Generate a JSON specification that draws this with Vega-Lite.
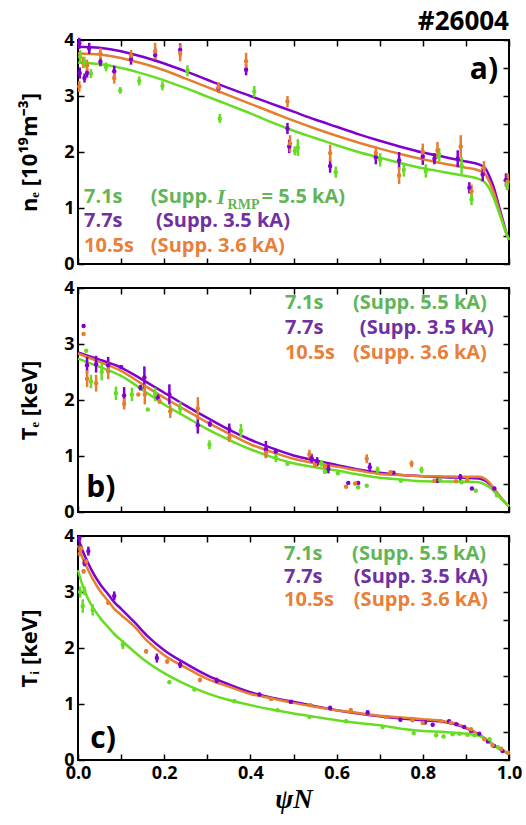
{
  "$schema": "https://vega.github.io/schema/vega-lite/v6.json",
  "padding": {"left": 17, "top": 8, "right": 2, "bottom": 4},
  "spacing": 4,
  "config": {
    "view": {"stroke": "black", "strokeWidth": 2},
    "font": "Open Sans",
    "axis": {"domain": false, "grid": false, "tickColor": "black", "tickWidth": 1.5, "tickSize": -6, "labelFont": "Open Sans", "labelFontSize": 18, "labelFontWeight": "bold", "labelColor": "black", "labelOverlap": false, "labelFlush": false, "labelPadding": 0, "titleColor": "black"}
  },
  "datasets": {
    "fitA": [
      {"t":"7.7s","psi":0,"v":3.88},{"t":"7.7s","psi":0.05,"v":3.86},{"t":"7.7s","psi":0.1,"v":3.80},{"t":"7.7s","psi":0.15,"v":3.70},{"t":"7.7s","psi":0.2,"v":3.58},{"t":"7.7s","psi":0.25,"v":3.44},{"t":"7.7s","psi":0.3,"v":3.29},{"t":"7.7s","psi":0.35,"v":3.14},{"t":"7.7s","psi":0.4,"v":3.00},{"t":"7.7s","psi":0.45,"v":2.86},{"t":"7.7s","psi":0.5,"v":2.72},{"t":"7.7s","psi":0.55,"v":2.58},{"t":"7.7s","psi":0.6,"v":2.45},{"t":"7.7s","psi":0.65,"v":2.32},{"t":"7.7s","psi":0.7,"v":2.20},{"t":"7.7s","psi":0.75,"v":2.09},{"t":"7.7s","psi":0.8,"v":1.99},{"t":"7.7s","psi":0.85,"v":1.91},{"t":"7.7s","psi":0.9,"v":1.83},{"t":"7.7s","psi":0.93,"v":1.78},{"t":"7.7s","psi":0.945,"v":1.71},{"t":"7.7s","psi":0.955,"v":1.56},{"t":"7.7s","psi":0.965,"v":1.36},{"t":"7.7s","psi":0.975,"v":1.08},{"t":"7.7s","psi":0.985,"v":0.80},{"t":"7.7s","psi":0.993,"v":0.58},{"t":"7.7s","psi":1.0,"v":0.43},
      {"t":"10.5s","psi":0,"v":3.76},{"t":"10.5s","psi":0.05,"v":3.74},{"t":"10.5s","psi":0.1,"v":3.68},{"t":"10.5s","psi":0.15,"v":3.58},{"t":"10.5s","psi":0.2,"v":3.46},{"t":"10.5s","psi":0.25,"v":3.31},{"t":"10.5s","psi":0.3,"v":3.16},{"t":"10.5s","psi":0.35,"v":3.01},{"t":"10.5s","psi":0.4,"v":2.86},{"t":"10.5s","psi":0.45,"v":2.71},{"t":"10.5s","psi":0.5,"v":2.56},{"t":"10.5s","psi":0.55,"v":2.42},{"t":"10.5s","psi":0.6,"v":2.29},{"t":"10.5s","psi":0.65,"v":2.17},{"t":"10.5s","psi":0.7,"v":2.06},{"t":"10.5s","psi":0.75,"v":1.96},{"t":"10.5s","psi":0.8,"v":1.87},{"t":"10.5s","psi":0.85,"v":1.79},{"t":"10.5s","psi":0.9,"v":1.72},{"t":"10.5s","psi":0.93,"v":1.67},{"t":"10.5s","psi":0.945,"v":1.60},{"t":"10.5s","psi":0.955,"v":1.46},{"t":"10.5s","psi":0.965,"v":1.27},{"t":"10.5s","psi":0.975,"v":1.01},{"t":"10.5s","psi":0.985,"v":0.76},{"t":"10.5s","psi":0.993,"v":0.56},{"t":"10.5s","psi":1.0,"v":0.43},
      {"t":"7.1s","psi":0,"v":3.60},{"t":"7.1s","psi":0.05,"v":3.57},{"t":"7.1s","psi":0.1,"v":3.50},{"t":"7.1s","psi":0.15,"v":3.40},{"t":"7.1s","psi":0.2,"v":3.28},{"t":"7.1s","psi":0.25,"v":3.14},{"t":"7.1s","psi":0.3,"v":2.99},{"t":"7.1s","psi":0.35,"v":2.84},{"t":"7.1s","psi":0.4,"v":2.69},{"t":"7.1s","psi":0.45,"v":2.53},{"t":"7.1s","psi":0.5,"v":2.38},{"t":"7.1s","psi":0.55,"v":2.25},{"t":"7.1s","psi":0.6,"v":2.12},{"t":"7.1s","psi":0.65,"v":2.00},{"t":"7.1s","psi":0.7,"v":1.90},{"t":"7.1s","psi":0.75,"v":1.80},{"t":"7.1s","psi":0.8,"v":1.71},{"t":"7.1s","psi":0.85,"v":1.64},{"t":"7.1s","psi":0.9,"v":1.57},{"t":"7.1s","psi":0.93,"v":1.52},{"t":"7.1s","psi":0.945,"v":1.45},{"t":"7.1s","psi":0.955,"v":1.34},{"t":"7.1s","psi":0.965,"v":1.17},{"t":"7.1s","psi":0.975,"v":0.96},{"t":"7.1s","psi":0.985,"v":0.74},{"t":"7.1s","psi":0.993,"v":0.56},{"t":"7.1s","psi":1.0,"v":0.43}
    ],
    "ptsA": [
      {"t":"7.7s","psi":0.003,"v":3.94,"err":0.1},{"t":"7.7s","psi":0.004,"v":3.41,"err":0.1},{"t":"7.7s","psi":0.015,"v":3.32,"err":0.08},{"t":"7.7s","psi":0.021,"v":3.41,"err":0.08},{"t":"7.7s","psi":0.026,"v":3.85,"err":0.1},{"t":"7.7s","psi":0.052,"v":3.61,"err":0.08},{"t":"7.7s","psi":0.084,"v":3.44,"err":0.1},{"t":"7.7s","psi":0.123,"v":3.66,"err":0.1},{"t":"7.7s","psi":0.179,"v":3.73,"err":0.12},{"t":"7.7s","psi":0.237,"v":3.82,"err":0.12},{"t":"7.7s","psi":0.326,"v":3.14,"err":0.08},{"t":"7.7s","psi":0.39,"v":3.47,"err":0.1},{"t":"7.7s","psi":0.486,"v":2.42,"err":0.1},{"t":"7.7s","psi":0.49,"v":2.1,"err":0.12},{"t":"7.7s","psi":0.585,"v":1.75,"err":0.12},{"t":"7.7s","psi":0.691,"v":1.9,"err":0.12},{"t":"7.7s","psi":0.745,"v":1.85,"err":0.15},{"t":"7.7s","psi":0.8,"v":1.92,"err":0.15},{"t":"7.7s","psi":0.827,"v":1.88,"err":0.1},{"t":"7.7s","psi":0.881,"v":1.88,"err":0.15},{"t":"7.7s","psi":0.908,"v":1.36,"err":0.1},{"t":"7.7s","psi":0.939,"v":1.6,"err":0.12},{"t":"7.7s","psi":0.993,"v":1.5,"err":0.12},
      {"t":"10.5s","psi":0.003,"v":3.17,"err":0.1},{"t":"10.5s","psi":0.012,"v":3.6,"err":0.1},{"t":"10.5s","psi":0.021,"v":3.55,"err":0.1},{"t":"10.5s","psi":0.052,"v":3.76,"err":0.1},{"t":"10.5s","psi":0.084,"v":3.32,"err":0.1},{"t":"10.5s","psi":0.123,"v":3.72,"err":0.1},{"t":"10.5s","psi":0.179,"v":3.8,"err":0.15},{"t":"10.5s","psi":0.237,"v":3.77,"err":0.15},{"t":"10.5s","psi":0.326,"v":3.15,"err":0.1},{"t":"10.5s","psi":0.39,"v":3.62,"err":0.15},{"t":"10.5s","psi":0.486,"v":2.9,"err":0.1},{"t":"10.5s","psi":0.492,"v":2.15,"err":0.15},{"t":"10.5s","psi":0.585,"v":1.98,"err":0.15},{"t":"10.5s","psi":0.691,"v":1.98,"err":0.12},{"t":"10.5s","psi":0.745,"v":1.58,"err":0.15},{"t":"10.5s","psi":0.8,"v":2.0,"err":0.15},{"t":"10.5s","psi":0.834,"v":2.03,"err":0.15},{"t":"10.5s","psi":0.888,"v":2.1,"err":0.2},{"t":"10.5s","psi":0.913,"v":1.3,"err":0.12},{"t":"10.5s","psi":0.942,"v":1.72,"err":0.12},{"t":"10.5s","psi":0.997,"v":1.47,"err":0.15},
      {"t":"7.1s","psi":0.005,"v":3.7,"err":0.12},{"t":"7.1s","psi":0.015,"v":3.6,"err":0.1},{"t":"7.1s","psi":0.03,"v":3.4,"err":0.08},{"t":"7.1s","psi":0.065,"v":3.52,"err":0.08},{"t":"7.1s","psi":0.098,"v":3.1,"err":0.06},{"t":"7.1s","psi":0.142,"v":3.27,"err":0.08},{"t":"7.1s","psi":0.196,"v":3.18,"err":0.08},{"t":"7.1s","psi":0.254,"v":3.45,"err":0.1},{"t":"7.1s","psi":0.329,"v":2.6,"err":0.08},{"t":"7.1s","psi":0.409,"v":3.08,"err":0.1},{"t":"7.1s","psi":0.503,"v":2.02,"err":0.08},{"t":"7.1s","psi":0.51,"v":2.08,"err":0.15},{"t":"7.1s","psi":0.598,"v":1.64,"err":0.1},{"t":"7.1s","psi":0.701,"v":1.86,"err":0.12},{"t":"7.1s","psi":0.756,"v":1.68,"err":0.12},{"t":"7.1s","psi":0.807,"v":1.66,"err":0.12},{"t":"7.1s","psi":0.838,"v":1.95,"err":0.12},{"t":"7.1s","psi":0.89,"v":1.76,"err":0.15},{"t":"7.1s","psi":0.913,"v":1.15,"err":0.1},{"t":"7.1s","psi":0.995,"v":1.42,"err":0.1}
    ],
    "fitB": [
      {"t":"7.7s","psi":0,"v":2.85},{"t":"7.7s","psi":0.05,"v":2.72},{"t":"7.7s","psi":0.1,"v":2.58},{"t":"7.7s","psi":0.15,"v":2.36},{"t":"7.7s","psi":0.2,"v":2.13},{"t":"7.7s","psi":0.25,"v":1.90},{"t":"7.7s","psi":0.3,"v":1.68},{"t":"7.7s","psi":0.35,"v":1.47},{"t":"7.7s","psi":0.4,"v":1.29},{"t":"7.7s","psi":0.45,"v":1.14},{"t":"7.7s","psi":0.5,"v":1.01},{"t":"7.7s","psi":0.55,"v":0.92},{"t":"7.7s","psi":0.6,"v":0.84},{"t":"7.7s","psi":0.65,"v":0.76},{"t":"7.7s","psi":0.7,"v":0.70},{"t":"7.7s","psi":0.75,"v":0.66},{"t":"7.7s","psi":0.8,"v":0.64},{"t":"7.7s","psi":0.85,"v":0.62},{"t":"7.7s","psi":0.9,"v":0.61},{"t":"7.7s","psi":0.93,"v":0.60},{"t":"7.7s","psi":0.945,"v":0.56},{"t":"7.7s","psi":0.955,"v":0.50},{"t":"7.7s","psi":0.965,"v":0.41},{"t":"7.7s","psi":0.975,"v":0.31},{"t":"7.7s","psi":0.985,"v":0.22},{"t":"7.7s","psi":1.0,"v":0.10},
      {"t":"10.5s","psi":0,"v":2.83},{"t":"10.5s","psi":0.05,"v":2.68},{"t":"10.5s","psi":0.1,"v":2.52},{"t":"10.5s","psi":0.15,"v":2.28},{"t":"10.5s","psi":0.2,"v":2.04},{"t":"10.5s","psi":0.25,"v":1.82},{"t":"10.5s","psi":0.3,"v":1.60},{"t":"10.5s","psi":0.35,"v":1.40},{"t":"10.5s","psi":0.4,"v":1.21},{"t":"10.5s","psi":0.45,"v":1.07},{"t":"10.5s","psi":0.5,"v":0.95},{"t":"10.5s","psi":0.55,"v":0.87},{"t":"10.5s","psi":0.6,"v":0.81},{"t":"10.5s","psi":0.65,"v":0.74},{"t":"10.5s","psi":0.7,"v":0.68},{"t":"10.5s","psi":0.75,"v":0.66},{"t":"10.5s","psi":0.8,"v":0.64},{"t":"10.5s","psi":0.85,"v":0.635},{"t":"10.5s","psi":0.9,"v":0.63},{"t":"10.5s","psi":0.93,"v":0.63},{"t":"10.5s","psi":0.945,"v":0.59},{"t":"10.5s","psi":0.955,"v":0.52},{"t":"10.5s","psi":0.965,"v":0.42},{"t":"10.5s","psi":0.975,"v":0.32},{"t":"10.5s","psi":0.985,"v":0.22},{"t":"10.5s","psi":1.0,"v":0.10},
      {"t":"7.1s","psi":0,"v":2.74},{"t":"7.1s","psi":0.05,"v":2.59},{"t":"7.1s","psi":0.1,"v":2.43},{"t":"7.1s","psi":0.15,"v":2.18},{"t":"7.1s","psi":0.2,"v":1.92},{"t":"7.1s","psi":0.25,"v":1.70},{"t":"7.1s","psi":0.3,"v":1.48},{"t":"7.1s","psi":0.35,"v":1.29},{"t":"7.1s","psi":0.4,"v":1.12},{"t":"7.1s","psi":0.45,"v":0.98},{"t":"7.1s","psi":0.5,"v":0.87},{"t":"7.1s","psi":0.55,"v":0.80},{"t":"7.1s","psi":0.6,"v":0.74},{"t":"7.1s","psi":0.65,"v":0.67},{"t":"7.1s","psi":0.7,"v":0.61},{"t":"7.1s","psi":0.75,"v":0.58},{"t":"7.1s","psi":0.8,"v":0.55},{"t":"7.1s","psi":0.85,"v":0.545},{"t":"7.1s","psi":0.9,"v":0.54},{"t":"7.1s","psi":0.93,"v":0.53},{"t":"7.1s","psi":0.945,"v":0.49},{"t":"7.1s","psi":0.955,"v":0.44},{"t":"7.1s","psi":0.965,"v":0.37},{"t":"7.1s","psi":0.975,"v":0.29},{"t":"7.1s","psi":0.985,"v":0.21},{"t":"7.1s","psi":1.0,"v":0.10}
    ],
    "ptsB": [
      {"t":"7.7s","psi":0.013,"v":3.32,"err":0},{"t":"7.7s","psi":0.021,"v":2.62,"err":0.15},{"t":"7.7s","psi":0.042,"v":2.64,"err":0.15},{"t":"7.7s","psi":0.07,"v":2.62,"err":0.15},{"t":"7.7s","psi":0.1,"v":2.59,"err":0},{"t":"7.7s","psi":0.107,"v":2.08,"err":0.15},{"t":"7.7s","psi":0.145,"v":2.22,"err":0.05},{"t":"7.7s","psi":0.154,"v":2.4,"err":0.2},{"t":"7.7s","psi":0.185,"v":2.05,"err":0.05},{"t":"7.7s","psi":0.212,"v":2.1,"err":0.18},{"t":"7.7s","psi":0.278,"v":1.55,"err":0.15},{"t":"7.7s","psi":0.306,"v":1.57,"err":0.05},{"t":"7.7s","psi":0.351,"v":1.48,"err":0.1},{"t":"7.7s","psi":0.436,"v":1.12,"err":0.15},{"t":"7.7s","psi":0.459,"v":1.08,"err":0.05},{"t":"7.7s","psi":0.542,"v":0.96,"err":0.08},{"t":"7.7s","psi":0.555,"v":0.9,"err":0.08},{"t":"7.7s","psi":0.581,"v":0.77,"err":0.08},{"t":"7.7s","psi":0.627,"v":0.52,"err":0},{"t":"7.7s","psi":0.65,"v":0.52,"err":0},{"t":"7.7s","psi":0.677,"v":0.8,"err":0.08},{"t":"7.7s","psi":0.732,"v":0.7,"err":0},{"t":"7.7s","psi":0.834,"v":0.56,"err":0.04},{"t":"7.7s","psi":0.887,"v":0.62,"err":0.06},{"t":"7.7s","psi":0.914,"v":0.42,"err":0},{"t":"7.7s","psi":0.966,"v":0.42,"err":0.03},
      {"t":"10.5s","psi":0.013,"v":3.18,"err":0},{"t":"10.5s","psi":0.021,"v":2.38,"err":0.15},{"t":"10.5s","psi":0.042,"v":2.3,"err":0.15},{"t":"10.5s","psi":0.07,"v":2.52,"err":0.15},{"t":"10.5s","psi":0.107,"v":1.93,"err":0.1},{"t":"10.5s","psi":0.14,"v":2.1,"err":0},{"t":"10.5s","psi":0.155,"v":2.1,"err":0.18},{"t":"10.5s","psi":0.189,"v":1.98,"err":0.05},{"t":"10.5s","psi":0.214,"v":1.8,"err":0.12},{"t":"10.5s","psi":0.278,"v":1.85,"err":0.2},{"t":"10.5s","psi":0.351,"v":1.33,"err":0.08},{"t":"10.5s","psi":0.436,"v":1.06,"err":0.1},{"t":"10.5s","psi":0.537,"v":1.03,"err":0.08},{"t":"10.5s","psi":0.55,"v":0.84,"err":0.05},{"t":"10.5s","psi":0.573,"v":0.82,"err":0.05},{"t":"10.5s","psi":0.622,"v":0.45,"err":0},{"t":"10.5s","psi":0.643,"v":0.51,"err":0},{"t":"10.5s","psi":0.67,"v":0.95,"err":0.08},{"t":"10.5s","psi":0.725,"v":0.71,"err":0.03},{"t":"10.5s","psi":0.774,"v":0.86,"err":0.06},{"t":"10.5s","psi":0.827,"v":0.56,"err":0.03},{"t":"10.5s","psi":0.877,"v":0.55,"err":0.03},{"t":"10.5s","psi":0.903,"v":0.57,"err":0.03},
      {"t":"7.1s","psi":0.019,"v":2.88,"err":0},{"t":"7.1s","psi":0.03,"v":2.33,"err":0.12},{"t":"7.1s","psi":0.055,"v":2.5,"err":0.15},{"t":"7.1s","psi":0.088,"v":2.12,"err":0.12},{"t":"7.1s","psi":0.125,"v":2.1,"err":0.12},{"t":"7.1s","psi":0.162,"v":1.83,"err":0},{"t":"7.1s","psi":0.179,"v":2.1,"err":0.12},{"t":"7.1s","psi":0.237,"v":1.85,"err":0.12},{"t":"7.1s","psi":0.305,"v":1.2,"err":0.08},{"t":"7.1s","psi":0.378,"v":1.45,"err":0.12},{"t":"7.1s","psi":0.459,"v":0.97,"err":0.08},{"t":"7.1s","psi":0.486,"v":0.86,"err":0.03},{"t":"7.1s","psi":0.565,"v":0.87,"err":0.06},{"t":"7.1s","psi":0.573,"v":0.72,"err":0.04},{"t":"7.1s","psi":0.603,"v":0.69,"err":0.03},{"t":"7.1s","psi":0.65,"v":0.44,"err":0},{"t":"7.1s","psi":0.67,"v":0.47,"err":0},{"t":"7.1s","psi":0.695,"v":0.75,"err":0.06},{"t":"7.1s","psi":0.749,"v":0.56,"err":0},{"t":"7.1s","psi":0.797,"v":0.75,"err":0.06},{"t":"7.1s","psi":0.84,"v":0.57,"err":0.03},{"t":"7.1s","psi":0.89,"v":0.53,"err":0.03},{"t":"7.1s","psi":0.923,"v":0.38,"err":0},{"t":"7.1s","psi":0.972,"v":0.3,"err":0.03}
    ],
    "fitC": [
      {"t":"7.7s","psi":0,"v":3.98},{"t":"7.7s","psi":0.01,"v":3.75},{"t":"7.7s","psi":0.022,"v":3.54},{"t":"7.7s","psi":0.035,"v":3.34},{"t":"7.7s","psi":0.053,"v":3.12},{"t":"7.7s","psi":0.07,"v":2.96},{"t":"7.7s","psi":0.084,"v":2.82},{"t":"7.7s","psi":0.1,"v":2.70},{"t":"7.7s","psi":0.131,"v":2.46},{"t":"7.7s","psi":0.16,"v":2.22},{"t":"7.7s","psi":0.2,"v":1.96},{"t":"7.7s","psi":0.25,"v":1.72},{"t":"7.7s","psi":0.3,"v":1.51},{"t":"7.7s","psi":0.35,"v":1.35},{"t":"7.7s","psi":0.4,"v":1.21},{"t":"7.7s","psi":0.45,"v":1.11},{"t":"7.7s","psi":0.5,"v":1.04},{"t":"7.7s","psi":0.55,"v":0.96},{"t":"7.7s","psi":0.6,"v":0.89},{"t":"7.7s","psi":0.65,"v":0.83},{"t":"7.7s","psi":0.7,"v":0.78},{"t":"7.7s","psi":0.75,"v":0.74},{"t":"7.7s","psi":0.8,"v":0.71},{"t":"7.7s","psi":0.85,"v":0.68},{"t":"7.7s","psi":0.88,"v":0.63},{"t":"7.7s","psi":0.9,"v":0.57},{"t":"7.7s","psi":0.92,"v":0.50},{"t":"7.7s","psi":0.935,"v":0.43},{"t":"7.7s","psi":0.95,"v":0.35},{"t":"7.7s","psi":0.966,"v":0.26},{"t":"7.7s","psi":0.98,"v":0.19},{"t":"7.7s","psi":1.0,"v":0.11},
      {"t":"10.5s","psi":0,"v":3.83},{"t":"10.5s","psi":0.01,"v":3.62},{"t":"10.5s","psi":0.022,"v":3.42},{"t":"10.5s","psi":0.035,"v":3.22},{"t":"10.5s","psi":0.053,"v":3.00},{"t":"10.5s","psi":0.07,"v":2.84},{"t":"10.5s","psi":0.084,"v":2.70},{"t":"10.5s","psi":0.1,"v":2.59},{"t":"10.5s","psi":0.131,"v":2.38},{"t":"10.5s","psi":0.16,"v":2.13},{"t":"10.5s","psi":0.2,"v":1.87},{"t":"10.5s","psi":0.25,"v":1.65},{"t":"10.5s","psi":0.3,"v":1.45},{"t":"10.5s","psi":0.35,"v":1.31},{"t":"10.5s","psi":0.4,"v":1.18},{"t":"10.5s","psi":0.45,"v":1.10},{"t":"10.5s","psi":0.5,"v":1.02},{"t":"10.5s","psi":0.55,"v":0.95},{"t":"10.5s","psi":0.6,"v":0.89},{"t":"10.5s","psi":0.65,"v":0.84},{"t":"10.5s","psi":0.7,"v":0.79},{"t":"10.5s","psi":0.75,"v":0.76},{"t":"10.5s","psi":0.8,"v":0.73},{"t":"10.5s","psi":0.85,"v":0.69},{"t":"10.5s","psi":0.88,"v":0.64},{"t":"10.5s","psi":0.9,"v":0.58},{"t":"10.5s","psi":0.92,"v":0.50},{"t":"10.5s","psi":0.935,"v":0.43},{"t":"10.5s","psi":0.95,"v":0.35},{"t":"10.5s","psi":0.966,"v":0.26},{"t":"10.5s","psi":0.98,"v":0.19},{"t":"10.5s","psi":1.0,"v":0.11},
      {"t":"7.1s","psi":0,"v":3.39},{"t":"7.1s","psi":0.01,"v":3.13},{"t":"7.1s","psi":0.022,"v":2.90},{"t":"7.1s","psi":0.035,"v":2.72},{"t":"7.1s","psi":0.053,"v":2.52},{"t":"7.1s","psi":0.07,"v":2.37},{"t":"7.1s","psi":0.084,"v":2.25},{"t":"7.1s","psi":0.1,"v":2.14},{"t":"7.1s","psi":0.131,"v":1.93},{"t":"7.1s","psi":0.16,"v":1.75},{"t":"7.1s","psi":0.2,"v":1.55},{"t":"7.1s","psi":0.25,"v":1.35},{"t":"7.1s","psi":0.3,"v":1.19},{"t":"7.1s","psi":0.35,"v":1.07},{"t":"7.1s","psi":0.4,"v":0.98},{"t":"7.1s","psi":0.45,"v":0.90},{"t":"7.1s","psi":0.5,"v":0.83},{"t":"7.1s","psi":0.55,"v":0.77},{"t":"7.1s","psi":0.6,"v":0.71},{"t":"7.1s","psi":0.65,"v":0.66},{"t":"7.1s","psi":0.7,"v":0.62},{"t":"7.1s","psi":0.75,"v":0.56},{"t":"7.1s","psi":0.8,"v":0.52},{"t":"7.1s","psi":0.85,"v":0.50},{"t":"7.1s","psi":0.88,"v":0.48},{"t":"7.1s","psi":0.9,"v":0.47},{"t":"7.1s","psi":0.92,"v":0.45},{"t":"7.1s","psi":0.935,"v":0.42},{"t":"7.1s","psi":0.95,"v":0.35},{"t":"7.1s","psi":0.966,"v":0.26},{"t":"7.1s","psi":0.98,"v":0.19},{"t":"7.1s","psi":1.0,"v":0.11}
    ],
    "ptsC": [
      {"t":"7.7s","psi":0.003,"v":3.95,"err":0.05},{"t":"7.7s","psi":0.006,"v":3.8,"err":0.05},{"t":"7.7s","psi":0.015,"v":3.52,"err":0.06},{"t":"7.7s","psi":0.024,"v":3.73,"err":0.08},{"t":"7.7s","psi":0.084,"v":2.93,"err":0.08},{"t":"7.7s","psi":0.183,"v":1.82,"err":0.08},{"t":"7.7s","psi":0.237,"v":1.7,"err":0.06},{"t":"7.7s","psi":0.322,"v":1.42,"err":0.05},{"t":"7.7s","psi":0.421,"v":1.17,"err":0.03},{"t":"7.7s","psi":0.494,"v":1.04,"err":0.03},{"t":"7.7s","psi":0.585,"v":0.93,"err":0.04},{"t":"7.7s","psi":0.672,"v":0.85,"err":0.04},{"t":"7.7s","psi":0.748,"v":0.72,"err":0.03},{"t":"7.7s","psi":0.805,"v":0.67,"err":0.03},{"t":"7.7s","psi":0.823,"v":0.63,"err":0.03},{"t":"7.7s","psi":0.861,"v":0.69,"err":0.03},{"t":"7.7s","psi":0.878,"v":0.64,"err":0.02},{"t":"7.7s","psi":0.896,"v":0.59,"err":0.02},{"t":"7.7s","psi":0.912,"v":0.52,"err":0.02},{"t":"7.7s","psi":0.931,"v":0.47,"err":0.02},{"t":"7.7s","psi":0.951,"v":0.33,"err":0.02},{"t":"7.7s","psi":0.965,"v":0.25,"err":0.02},{"t":"7.7s","psi":0.985,"v":0.16,"err":0.02},
      {"t":"10.5s","psi":0.004,"v":3.68,"err":0.04},{"t":"10.5s","psi":0.007,"v":3.78,"err":0.04},{"t":"10.5s","psi":0.013,"v":3.37,"err":0.04},{"t":"10.5s","psi":0.019,"v":3.54,"err":0.04},{"t":"10.5s","psi":0.07,"v":2.81,"err":0.03},{"t":"10.5s","psi":0.158,"v":1.94,"err":0.04},{"t":"10.5s","psi":0.207,"v":1.76,"err":0.04},{"t":"10.5s","psi":0.283,"v":1.43,"err":0.04},{"t":"10.5s","psi":0.448,"v":1.09,"err":0.03},{"t":"10.5s","psi":0.539,"v":0.98,"err":0.03},{"t":"10.5s","psi":0.633,"v":0.89,"err":0.04},{"t":"10.5s","psi":0.714,"v":0.77,"err":0.03},{"t":"10.5s","psi":0.776,"v":0.71,"err":0.03},{"t":"10.5s","psi":0.8,"v":0.66,"err":0.03},{"t":"10.5s","psi":0.842,"v":0.69,"err":0.03},{"t":"10.5s","psi":0.865,"v":0.66,"err":0.03},{"t":"10.5s","psi":0.912,"v":0.55,"err":0.02},{"t":"10.5s","psi":0.943,"v":0.37,"err":0.02},{"t":"10.5s","psi":0.962,"v":0.26,"err":0.02},{"t":"10.5s","psi":0.982,"v":0.2,"err":0.02},{"t":"10.5s","psi":0.998,"v":0.13,"err":0.02},
      {"t":"7.1s","psi":0.005,"v":3.0,"err":0.1},{"t":"7.1s","psi":0.011,"v":2.75,"err":0.12},{"t":"7.1s","psi":0.015,"v":3.02,"err":0.08},{"t":"7.1s","psi":0.034,"v":2.68,"err":0.1},{"t":"7.1s","psi":0.104,"v":2.06,"err":0.08},{"t":"7.1s","psi":0.212,"v":1.39,"err":0.03},{"t":"7.1s","psi":0.27,"v":1.26,"err":0.03},{"t":"7.1s","psi":0.363,"v":1.05,"err":0.03},{"t":"7.1s","psi":0.463,"v":0.89,"err":0.02},{"t":"7.1s","psi":0.537,"v":0.77,"err":0.02},{"t":"7.1s","psi":0.622,"v":0.69,"err":0.03},{"t":"7.1s","psi":0.707,"v":0.59,"err":0.02},{"t":"7.1s","psi":0.779,"v":0.48,"err":0.02},{"t":"7.1s","psi":0.831,"v":0.44,"err":0.03},{"t":"7.1s","psi":0.848,"v":0.42,"err":0.03},{"t":"7.1s","psi":0.869,"v":0.46,"err":0.02},{"t":"7.1s","psi":0.885,"v":0.47,"err":0.02},{"t":"7.1s","psi":0.904,"v":0.45,"err":0.02},{"t":"7.1s","psi":0.92,"v":0.44,"err":0.02},{"t":"7.1s","psi":0.955,"v":0.37,"err":0.02},{"t":"7.1s","psi":0.974,"v":0.23,"err":0.02}
    ]
  },
  "vconcat": [
    {
      "width": 431, "height": 224,
      "title": {"text": "#26004", "anchor": "end", "frame": "group", "font": "Open Sans", "fontSize": 26, "fontWeight": "bold", "color": "black", "offset": -4},
      "resolve": {"axis": {"x": "independent", "y": "independent"}},
      "layer": [
        {"data": {"name": "fitA"}, "mark": {"type": "line", "strokeWidth": 2.5, "interpolate": "monotone"},
         "encoding": {
           "x": {"field": "psi", "type": "quantitative", "scale": {"domain": [0, 1], "nice": false}, "axis": {"orient": "bottom", "values": [0,0.1,0.2,0.3,0.4,0.5,0.6,0.7,0.8,0.9,1], "labels": false, "title": null}},
           "y": {"field": "v", "type": "quantitative", "scale": {"domain": [0, 4], "nice": false}, "axis": {"orient": "left", "values": [0,0.5,1,1.5,2,2.5,3,3.5,4], "format": "d", "labelExpr": "datum.value % 1 === 0 ? datum.label : ''", "labelPadding": 10, "title": "nₑ [10¹⁹m⁻³]", "titleFont": "Open Sans", "titleFontSize": 22, "titleFontWeight": "bold", "titlePadding": 22}},
           "color": {"field": "t", "type": "nominal", "scale": {"domain": ["7.1s", "7.7s", "10.5s"], "range": ["#66dd22", "#8000d0", "#e67e30"]}, "legend": null}}},
        {"data": {"name": "ptsA"}, "mark": {"type": "errorbar", "thickness": 2.5},
         "encoding": {"x": {"field": "psi", "type": "quantitative", "axis": null}, "y": {"field": "v", "type": "quantitative", "axis": null}, "yError": {"field": "err"}, "color": {"field": "t", "type": "nominal", "legend": null}}},
        {"data": {"name": "ptsA"}, "mark": {"type": "circle", "size": 20, "opacity": 1},
         "encoding": {
           "x": {"field": "psi", "type": "quantitative", "axis": {"orient": "top", "values": [0,0.1,0.2,0.3,0.4,0.5,0.6,0.7,0.8,0.9,1], "labels": false, "title": null}},
           "y": {"field": "v", "type": "quantitative", "axis": {"orient": "right", "values": [0,0.5,1,1.5,2,2.5,3,3.5,4], "labels": false, "title": null}},
           "color": {"field": "t", "type": "nominal", "legend": null}}},
        {"data": {"values": [{}]}, "mark": {"type": "text", "text": "a)", "font": "Open Sans", "fontSize": 30, "fontWeight": "bold", "color": "black", "align": "center", "baseline": "middle"},
         "encoding": {"x": {"datum": 0.942, "axis": null}, "y": {"datum": 3.47, "axis": null}}},
        {"data": {"values": [{}]}, "mark": {"type": "text", "text": "7.1s", "font": "Open Sans", "fontSize": 20, "fontWeight": "bold", "color": "#62b556", "align": "left", "baseline": "middle"},
         "encoding": {"x": {"datum": 0.014, "axis": null}, "y": {"datum": 1.19, "axis": null}}},
        {"data": {"values": [{}]}, "mark": {"type": "text", "text": "(Supp.", "font": "Open Sans", "fontSize": 20, "fontWeight": "bold", "color": "#62b556", "align": "left", "baseline": "middle"},
         "encoding": {"x": {"datum": 0.169, "axis": null}, "y": {"datum": 1.19, "axis": null}}},
        {"data": {"values": [{}]}, "mark": {"type": "text", "text": "I", "font": "Liberation Serif", "fontSize": 22, "fontStyle": "italic", "fontWeight": "bold", "color": "#62b556", "align": "left", "baseline": "middle"},
         "encoding": {"x": {"datum": 0.322, "axis": null}, "y": {"datum": 1.19, "axis": null}}},
        {"data": {"values": [{}]}, "mark": {"type": "text", "text": "RMP", "font": "Liberation Serif", "fontSize": 14, "fontWeight": "bold", "color": "#62b556", "align": "left", "baseline": "middle"},
         "encoding": {"x": {"datum": 0.347, "axis": null}, "y": {"datum": 1.05, "axis": null}}},
        {"data": {"values": [{}]}, "mark": {"type": "text", "text": "= 5.5 kA)", "font": "Open Sans", "fontSize": 20, "fontWeight": "bold", "color": "#62b556", "align": "left", "baseline": "middle"},
         "encoding": {"x": {"datum": 0.426, "axis": null}, "y": {"datum": 1.19, "axis": null}}},
        {"data": {"values": [{}]}, "mark": {"type": "text", "text": "7.7s", "font": "Open Sans", "fontSize": 20, "fontWeight": "bold", "color": "#7030a0", "align": "left", "baseline": "middle"},
         "encoding": {"x": {"datum": 0.014, "axis": null}, "y": {"datum": 0.76, "axis": null}}},
        {"data": {"values": [{}]}, "mark": {"type": "text", "text": "(Supp. 3.5 kA)", "font": "Open Sans", "fontSize": 20, "fontWeight": "bold", "color": "#7030a0", "align": "left", "baseline": "middle"},
         "encoding": {"x": {"datum": 0.181, "axis": null}, "y": {"datum": 0.76, "axis": null}}},
        {"data": {"values": [{}]}, "mark": {"type": "text", "text": "10.5s", "font": "Open Sans", "fontSize": 20, "fontWeight": "bold", "color": "#e8803a", "align": "left", "baseline": "middle"},
         "encoding": {"x": {"datum": 0.014, "axis": null}, "y": {"datum": 0.32, "axis": null}}},
        {"data": {"values": [{}]}, "mark": {"type": "text", "text": "(Supp. 3.6 kA)", "font": "Open Sans", "fontSize": 20, "fontWeight": "bold", "color": "#e8803a", "align": "left", "baseline": "middle"},
         "encoding": {"x": {"datum": 0.169, "axis": null}, "y": {"datum": 0.32, "axis": null}}}
      ]
    },
    {
      "width": 431, "height": 224,
      "resolve": {"axis": {"x": "independent", "y": "independent"}},
      "layer": [
        {"data": {"name": "fitB"}, "mark": {"type": "line", "strokeWidth": 2.5, "interpolate": "monotone"},
         "encoding": {
           "x": {"field": "psi", "type": "quantitative", "scale": {"domain": [0, 1], "nice": false}, "axis": {"orient": "bottom", "values": [0,0.1,0.2,0.3,0.4,0.5,0.6,0.7,0.8,0.9,1], "labels": false, "title": null}},
           "y": {"field": "v", "type": "quantitative", "scale": {"domain": [0, 4], "nice": false}, "axis": {"orient": "left", "values": [0,0.5,1,1.5,2,2.5,3,3.5,4], "format": "d", "labelExpr": "datum.value % 1 === 0 ? datum.label : ''", "labelPadding": 10, "title": "Tₑ [keV]", "titleFont": "Open Sans", "titleFontSize": 22, "titleFontWeight": "bold", "titlePadding": 22}},
           "color": {"field": "t", "type": "nominal", "scale": {"domain": ["7.1s", "7.7s", "10.5s"], "range": ["#66dd22", "#8000d0", "#e67e30"]}, "legend": null}}},
        {"data": {"name": "ptsB"}, "mark": {"type": "errorbar", "thickness": 2.5},
         "encoding": {"x": {"field": "psi", "type": "quantitative", "axis": null}, "y": {"field": "v", "type": "quantitative", "axis": null}, "yError": {"field": "err"}, "color": {"field": "t", "type": "nominal", "legend": null}}},
        {"data": {"name": "ptsB"}, "mark": {"type": "circle", "size": 20, "opacity": 1},
         "encoding": {
           "x": {"field": "psi", "type": "quantitative", "axis": {"orient": "top", "values": [0,0.1,0.2,0.3,0.4,0.5,0.6,0.7,0.8,0.9,1], "labels": false, "title": null}},
           "y": {"field": "v", "type": "quantitative", "axis": {"orient": "right", "values": [0,0.5,1,1.5,2,2.5,3,3.5,4], "labels": false, "title": null}},
           "color": {"field": "t", "type": "nominal", "legend": null}}},
        {"data": {"values": [{}]}, "mark": {"type": "text", "text": "b)", "font": "Open Sans", "fontSize": 30, "fontWeight": "bold", "color": "black", "align": "center", "baseline": "middle"},
         "encoding": {"x": {"datum": 0.053, "axis": null}, "y": {"datum": 0.43, "axis": null}}},
        {"data": {"values": [{}]}, "mark": {"type": "text", "text": "7.1s", "font": "Open Sans", "fontSize": 20, "fontWeight": "bold", "color": "#62b556", "align": "left", "baseline": "middle"},
         "encoding": {"x": {"datum": 0.48, "axis": null}, "y": {"datum": 3.73, "axis": null}}},
        {"data": {"values": [{}]}, "mark": {"type": "text", "text": "(Supp. 5.5 kA)", "font": "Open Sans", "fontSize": 20, "fontWeight": "bold", "color": "#62b556", "align": "left", "baseline": "middle"},
         "encoding": {"x": {"datum": 0.638, "axis": null}, "y": {"datum": 3.73, "axis": null}}},
        {"data": {"values": [{}]}, "mark": {"type": "text", "text": "7.7s", "font": "Open Sans", "fontSize": 20, "fontWeight": "bold", "color": "#7030a0", "align": "left", "baseline": "middle"},
         "encoding": {"x": {"datum": 0.48, "axis": null}, "y": {"datum": 3.29, "axis": null}}},
        {"data": {"values": [{}]}, "mark": {"type": "text", "text": "(Supp. 3.5 kA)", "font": "Open Sans", "fontSize": 20, "fontWeight": "bold", "color": "#7030a0", "align": "left", "baseline": "middle"},
         "encoding": {"x": {"datum": 0.654, "axis": null}, "y": {"datum": 3.29, "axis": null}}},
        {"data": {"values": [{}]}, "mark": {"type": "text", "text": "10.5s", "font": "Open Sans", "fontSize": 20, "fontWeight": "bold", "color": "#e8803a", "align": "left", "baseline": "middle"},
         "encoding": {"x": {"datum": 0.48, "axis": null}, "y": {"datum": 2.84, "axis": null}}},
        {"data": {"values": [{}]}, "mark": {"type": "text", "text": "(Supp. 3.6 kA)", "font": "Open Sans", "fontSize": 20, "fontWeight": "bold", "color": "#e8803a", "align": "left", "baseline": "middle"},
         "encoding": {"x": {"datum": 0.638, "axis": null}, "y": {"datum": 2.84, "axis": null}}}
      ]
    },
    {
      "width": 431, "height": 224,
      "resolve": {"axis": {"x": "independent", "y": "independent"}},
      "layer": [
        {"data": {"name": "fitC"}, "mark": {"type": "line", "strokeWidth": 2.5, "interpolate": "monotone"},
         "encoding": {
           "x": {"field": "psi", "type": "quantitative", "scale": {"domain": [0, 1], "nice": false}, "axis": {"orient": "bottom", "values": [0,0.1,0.2,0.3,0.4,0.5,0.6,0.7,0.8,0.9,1], "format": ".1f", "labelExpr": "round(datum.value * 10) % 2 === 0 ? datum.label : ''", "labelPadding": 10, "title": "ψN", "titleFont": "Liberation Serif", "titleFontSize": 27, "titleFontStyle": "italic", "titleFontWeight": "bold", "titlePadding": 4}},
           "y": {"field": "v", "type": "quantitative", "scale": {"domain": [0, 4], "nice": false}, "axis": {"orient": "left", "values": [0,0.5,1,1.5,2,2.5,3,3.5,4], "format": "d", "labelExpr": "datum.value % 1 === 0 ? datum.label : ''", "labelPadding": 10, "title": "Tᵢ [keV]", "titleFont": "Open Sans", "titleFontSize": 22, "titleFontWeight": "bold", "titlePadding": 22}},
           "color": {"field": "t", "type": "nominal", "scale": {"domain": ["7.1s", "7.7s", "10.5s"], "range": ["#66dd22", "#8000d0", "#e67e30"]}, "legend": null}}},
        {"data": {"name": "ptsC"}, "mark": {"type": "errorbar", "thickness": 2.5},
         "encoding": {"x": {"field": "psi", "type": "quantitative", "axis": null}, "y": {"field": "v", "type": "quantitative", "axis": null}, "yError": {"field": "err"}, "color": {"field": "t", "type": "nominal", "legend": null}}},
        {"data": {"name": "ptsC"}, "mark": {"type": "circle", "size": 20, "opacity": 1},
         "encoding": {
           "x": {"field": "psi", "type": "quantitative", "axis": {"orient": "top", "values": [0,0.1,0.2,0.3,0.4,0.5,0.6,0.7,0.8,0.9,1], "labels": false, "title": null}},
           "y": {"field": "v", "type": "quantitative", "axis": {"orient": "right", "values": [0,0.5,1,1.5,2,2.5,3,3.5,4], "labels": false, "title": null}},
           "color": {"field": "t", "type": "nominal", "legend": null}}},
        {"data": {"values": [{}]}, "mark": {"type": "text", "text": "c)", "font": "Open Sans", "fontSize": 30, "fontWeight": "bold", "color": "black", "align": "center", "baseline": "middle"},
         "encoding": {"x": {"datum": 0.058, "axis": null}, "y": {"datum": 0.375, "axis": null}}},
        {"data": {"values": [{}]}, "mark": {"type": "text", "text": "7.1s", "font": "Open Sans", "fontSize": 20, "fontWeight": "bold", "color": "#62b556", "align": "left", "baseline": "middle"},
         "encoding": {"x": {"datum": 0.478, "axis": null}, "y": {"datum": 3.68, "axis": null}}},
        {"data": {"values": [{}]}, "mark": {"type": "text", "text": "(Supp. 5.5 kA)", "font": "Open Sans", "fontSize": 20, "fontWeight": "bold", "color": "#62b556", "align": "left", "baseline": "middle"},
         "encoding": {"x": {"datum": 0.636, "axis": null}, "y": {"datum": 3.68, "axis": null}}},
        {"data": {"values": [{}]}, "mark": {"type": "text", "text": "7.7s", "font": "Open Sans", "fontSize": 20, "fontWeight": "bold", "color": "#7030a0", "align": "left", "baseline": "middle"},
         "encoding": {"x": {"datum": 0.478, "axis": null}, "y": {"datum": 3.27, "axis": null}}},
        {"data": {"values": [{}]}, "mark": {"type": "text", "text": "(Supp. 3.5 kA)", "font": "Open Sans", "fontSize": 20, "fontWeight": "bold", "color": "#7030a0", "align": "left", "baseline": "middle"},
         "encoding": {"x": {"datum": 0.64, "axis": null}, "y": {"datum": 3.27, "axis": null}}},
        {"data": {"values": [{}]}, "mark": {"type": "text", "text": "10.5s", "font": "Open Sans", "fontSize": 20, "fontWeight": "bold", "color": "#e8803a", "align": "left", "baseline": "middle"},
         "encoding": {"x": {"datum": 0.478, "axis": null}, "y": {"datum": 2.86, "axis": null}}},
        {"data": {"values": [{}]}, "mark": {"type": "text", "text": "(Supp. 3.6 kA)", "font": "Open Sans", "fontSize": 20, "fontWeight": "bold", "color": "#e8803a", "align": "left", "baseline": "middle"},
         "encoding": {"x": {"datum": 0.64, "axis": null}, "y": {"datum": 2.86, "axis": null}}}
      ]
    }
  ]
}
